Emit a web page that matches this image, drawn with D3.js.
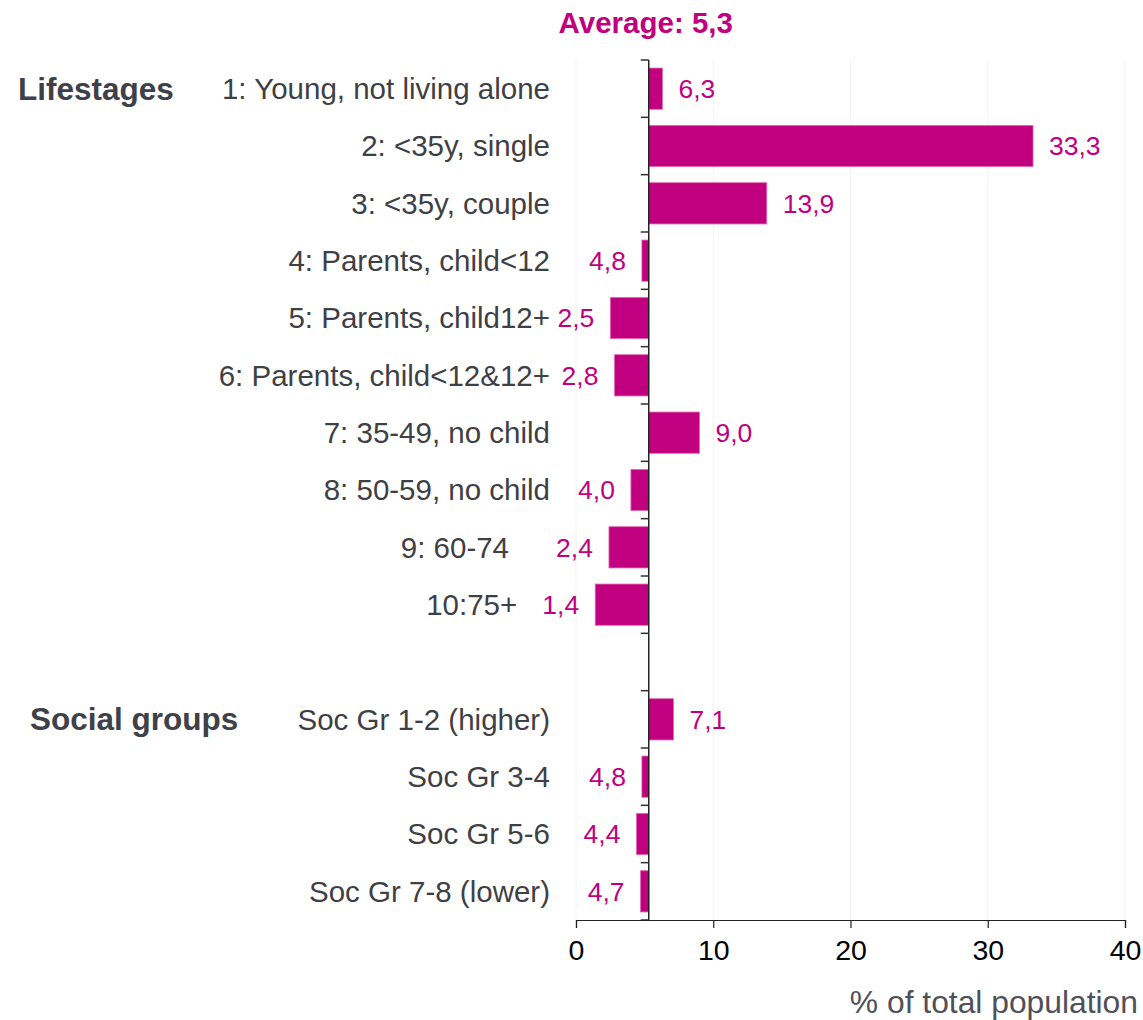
<!DOCTYPE html>
<html>
<head>
<meta charset="utf-8">
<script src="https://cdnjs.cloudflare.com/ajax/libs/d3/7.8.5/d3.min.js"></script>
<style>
  body { margin: 0; background: #fff; }
  text { font-family: "Liberation Sans", Arial, sans-serif; }
</style>
</head>
<body>
<svg id="chart" width="1143" height="1020"></svg>
<script>
// chart data
var categories = [
  "1: Young, not living alone", "2: <35y, single", "3: <35y, couple",
  "4: Parents, child<12", "5: Parents, child12+", "6: Parents, child<12&12+",
  "7: 35-49, no child", "8: 50-59, no child", "9: 60-74\u00a0\u00a0\u00a0\u00a0\u00a0",
  "10:75+\u00a0\u00a0\u00a0\u00a0", "",
  "Soc Gr 1-2 (higher)", "Soc Gr 3-4", "Soc Gr 5-6", "Soc Gr 7-8 (lower)"
];
var values = [6.3, 33.3, 13.9, 4.8, 2.5, 2.8, 9.0, 4.0, 2.4, 1.4, null, 7.1, 4.8, 4.4, 4.7];
var groups = ["Lifestages", "Social groups"];
var groupRows = [0, 11];
var average = 5.3;
var xTicks = [0, 10, 20, 30, 40];

var pink = "#c0007f";
var svg = d3.select("#chart");

var x = d3.scaleLinear().domain([0, 40]).range([576, 1125]);
var y = d3.scaleBand().domain(d3.range(categories.length)).range([60, 920]).paddingInner(0.28).paddingOuter(0.14);
var yb = d3.scaleBand().domain(d3.range(categories.length)).range([60, 920]);

function fmt(v) { return v.toFixed(1).replace(".", ","); }

// faint gridlines
svg.append("g").selectAll("line").data(xTicks).enter().append("line")
  .attr("x1", function(d) { return x(d); }).attr("x2", function(d) { return x(d); })
  .attr("y1", 60).attr("y2", 920)
  .attr("stroke", "#f2f2f2").attr("stroke-width", 1);

// bars going out from the average
var rows = d3.range(categories.length).filter(function(i) { return values[i] !== null; });
svg.append("g").selectAll("rect").data(rows).enter().append("rect")
  .attr("x", function(i) { return x(Math.min(values[i], average)); })
  .attr("width", function(i) { return Math.abs(x(values[i]) - x(average)); })
  .attr("y", function(i) { return y(i); })
  .attr("height", y.bandwidth())
  .attr("fill", pink)
  .attr("stroke", "#e46cb4").attr("stroke-width", 0.8);

// value labels
svg.append("g").selectAll("text").data(rows).enter().append("text")
  .attr("x", function(i) { return values[i] >= average ? x(values[i]) + 16 : x(values[i]) - 16; })
  .attr("y", function(i) { return yb(i) + yb.bandwidth() / 2; })
  .attr("dy", "0.35em")
  .attr("text-anchor", function(i) { return values[i] >= average ? "start" : "end"; })
  .attr("font-size", 26.5)
  .attr("fill", pink)
  .text(function(i) { return fmt(values[i]); });

// category labels
svg.append("g").selectAll("text").data(d3.range(categories.length)).enter().append("text")
  .attr("x", 550)
  .attr("y", function(i) { return yb(i) + yb.bandwidth() / 2; })
  .attr("dy", "0.35em")
  .attr("text-anchor", "end")
  .attr("font-size", 29.5)
  .attr("fill", "#3f3f46")
  .style("white-space", "pre")
  .text(function(i) { return categories[i]; });

// group titles
svg.append("g").selectAll("text").data(groups).enter().append("text")
  .attr("x", function(d, k) { return k === 0 ? 18 : 30; })
  .attr("y", function(d, k) { return yb(groupRows[k]) + yb.bandwidth() / 2; })
  .attr("dy", "0.35em")
  .attr("font-size", 31.5)
  .attr("font-weight", "bold")
  .attr("fill", "#404048")
  .text(function(d) { return d; });

// average line with band ticks
var avgG = svg.append("g").attr("transform", "translate(" + x(average) + ",0)");
avgG.append("line").attr("y1", 60).attr("y2", 920).attr("stroke", "#222").attr("stroke-width", 1.5);
avgG.selectAll("line.tk").data(d3.range(categories.length + 1)).enter().append("line")
  .attr("class", "tk")
  .attr("x1", -8).attr("x2", 0)
  .attr("y1", function(i) { return 60 + i * yb.step(); })
  .attr("y2", function(i) { return 60 + i * yb.step(); })
  .attr("stroke", "#333").attr("stroke-width", 1.5);

// x axis
var xAxis = d3.axisBottom(x).tickValues(xTicks).tickSize(8).tickPadding(12).tickFormat(d3.format("d"));
var xg = svg.append("g").attr("transform", "translate(0,920)").call(xAxis);
xg.select(".domain").attr("stroke", "#222").attr("stroke-width", 1.2);
xg.selectAll(".tick line").attr("stroke", "#222").attr("stroke-width", 1.2);
xg.selectAll(".tick text").attr("font-size", 28.5).attr("fill", "#000")
  .style("font-family", "'Liberation Sans', Arial, sans-serif");

svg.append("text")
  .attr("x", 1138).attr("y", 1013)
  .attr("text-anchor", "end")
  .attr("font-size", 31.8)
  .attr("fill", "#50505a")
  .text("% of total population");

svg.append("text")
  .attr("x", x(average) - 3).attr("y", 33)
  .attr("text-anchor", "middle")
  .attr("font-size", 29.5)
  .attr("font-weight", "bold")
  .attr("fill", pink)
  .text("Average: " + fmt(average));
</script>
</body>
</html>
